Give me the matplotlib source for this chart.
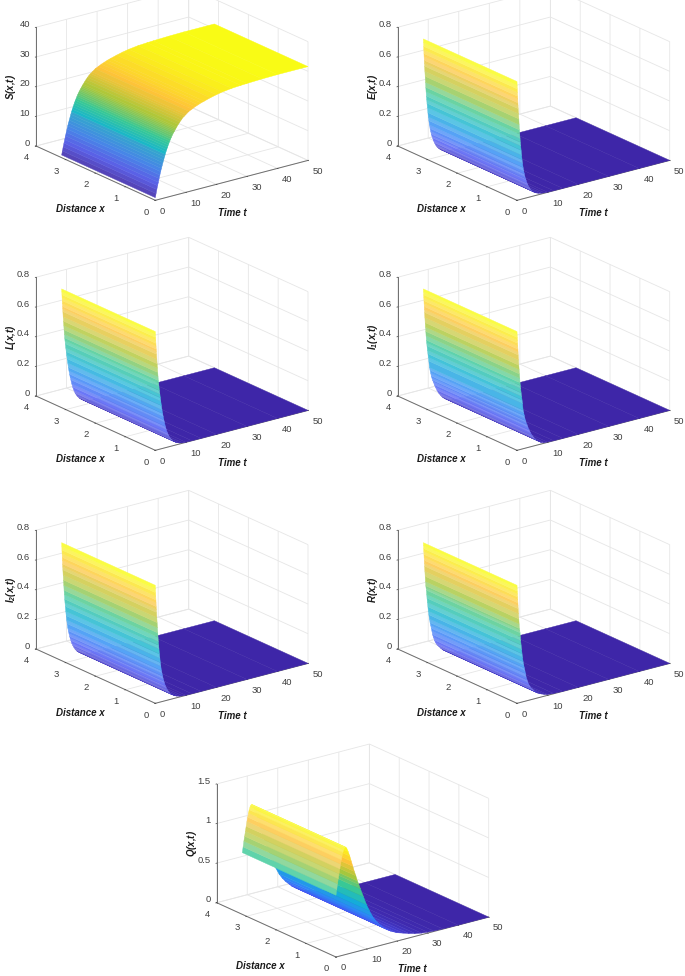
import numpy as np
import matplotlib
matplotlib.use('Agg')
import matplotlib.pyplot as plt
from matplotlib.colors import LinearSegmentedColormap
from mpl_toolkits.mplot3d import proj3d

plt.rcParams['font.family'] = ['Liberation Sans', 'DejaVu Sans']
plt.rcParams['mathtext.fontset'] = 'custom'
plt.rcParams['mathtext.bfit'] = 'Liberation Sans:italic:bold'
plt.rcParams['mathtext.rm'] = 'Liberation Sans:italic:bold'

W, H = 685, 976

# distance is constant across each surface, only the two ends are needed
x_values = [0, 3.14]

t_fast = [0, .05, .1, .15, .2, .25, .3, .35, .4, .5, .6, .7, .8, .9, 1, 1.1, 1.2, 1.35, 1.5, 1.65, 1.8, 2,
          2.2, 2.4, 2.6, 2.8, 3, 3.3, 3.6, 4, 4.4, 5, 5.6, 6.3, 7, 8, 9, 10, 12, 15, 20, 30, 40, 50]
E_values = [.80, .775, .75, .725, .70, .68, .655, .635, .615, .58, .545, .505, .47, .44, .41, .385, .36, .33, .295, .265, .24, .21,
            .185, .165, .145, .13, .118, .098, .082, .065, .05, .036, .025, .016, .01, .005, .002, .001, 0, 0, 0, 0, 0, 0]
L_values = [.80, .78, .76, .74, .72, .70, .68, .665, .645, .61, .58, .55, .52, .49, .465, .445, .425, .395, .37, .345, .32, .29,
            .26, .235, .212, .19, .172, .143, .12, .095, .075, .053, .037, .024, .014, .006, .002, .001, 0, 0, 0, 0, 0, 0]
I1_values = [.80, .78, .76, .74, .72, .70, .68, .66, .64, .605, .57, .54, .51, .48, .45, .43, .41, .38, .355, .33, .305, .26,
             .24, .22, .20, .185, .17, .155, .135, .115, .095, .072, .053, .036, .024, .01, .004, .002, 0, 0, 0, 0, 0, 0]
I2_values = [.795, .77, .745, .72, .695, .675, .65, .63, .61, .575, .54, .505, .47, .44, .41, .385, .36, .325, .295, .265, .24, .21,
             .19, .17, .15, .135, .12, .10, .085, .068, .053, .038, .027, .018, .011, .005, .002, .001, 0, 0, 0, 0, 0, 0]
R_values = [.795, .775, .755, .735, .715, .695, .675, .655, .635, .60, .565, .53, .50, .485, .47, .44, .415, .385, .355, .325, .30, .27,
            .245, .225, .205, .185, .16, .14, .12, .10, .085, .07, .055, .04, .03, .02, .012, .006, .002, 0, 0, 0, 0, 0]

t_slow = [0, .25, .5, .75, 1, 1.25, 1.5, 1.75, 2, 2.25, 2.5, 2.75, 3, 3.25, 3.5, 3.75, 4, 4.25, 4.5, 4.75, 5, 5.25, 5.5, 5.75,
          6, 6.25, 6.5, 6.75, 7, 7.5, 8, 8.5, 9, 9.5, 10, 11, 12, 13, 14, 15, 16, 18, 20, 22, 25, 28, 30, 35, 40, 50]
S_values = [.9, 2.2, 3.5, 4.7, 5.8, 7, 8.1, 9.2, 10.2, 11.1, 12, 12.9, 13.8, 14.6, 15.4, 16.1, 16.8, 17.5, 18.1, 18.7, 19.3, 19.8, 20.3, 20.8,
            21.2, 21.6, 22, 22.4, 22.8, 23.5, 24.2, 24.8, 25.4, 25.8, 26.2, 27, 27.5, 28, 28.4, 28.8, 29.1, 29.7, 30.2, 30.6, 31, 31.2, 31.3, 31.5, 31.6, 31.6]

t_hump = [0, .25, .5, .75, 1, 1.25, 1.5, 1.75, 2, 2.25, 2.5, 2.75, 3, 3.5, 4, 4.5, 5, 5.5, 6, 6.5, 7, 7.5, 8,
          9, 10, 11, 12, 13, 14, 15, 16, 17, 18, 19, 20, 22, 24, 26, 28, 30, 32, 35, 40, 50]
Q_values = [.78, .85, .92, .98, 1.04, 1.10, 1.16, 1.21, 1.26, 1.30, 1.33, 1.35, 1.36, 1.34, 1.29, 1.23, 1.16, 1.09, 1.02, .96, .89, .84, .78,
            .67, .56, .47, .39, .33, .28, .24, .20, .17, .145, .125, .105, .08, .055, .035, .02, .012, .006, .002, 0, 0]

x_ticks = [0, 1, 2, 3, 4]
t_ticks = [0, 10, 20, 30, 40, 50]
z_ticks_S = [0, 10, 20, 30, 40]
z_ticks_small = [0, .2, .4, .6, .8]
z_ticks_Q = [0, .5, 1, 1.5]

# parula
parula = LinearSegmentedColormap.from_list('parula', [
    (.2422, .1504, .6603), (.2810, .3228, .9579), (.1786, .5289, .9682), (.0689, .6948, .8394),
    (.2161, .7843, .5923), (.6720, .7793, .2227), (.9970, .7659, .2199), (.9769, .9839, .0805)])

panels = [
    (t_slow, S_values, z_ticks_S, ['0', '10', '20', '30', '40'], r'$\mathbfit{S(x{,}t)}$', 36, 146),
    (t_fast, E_values, z_ticks_small, ['0', '0.2', '0.4', '0.6', '0.8'], r'$\mathbfit{E(x{,}t)}$', 397.7, 146),
    (t_fast, L_values, z_ticks_small, ['0', '0.2', '0.4', '0.6', '0.8'], r'$\mathbfit{L(x{,}t)}$', 36, 396),
    (t_fast, I1_values, z_ticks_small, ['0', '0.2', '0.4', '0.6', '0.8'], r'$\mathbfit{I_1(x{,}t)}$', 397.7, 396),
    (t_fast, I2_values, z_ticks_small, ['0', '0.2', '0.4', '0.6', '0.8'], r'$\mathbfit{I_2(x{,}t)}$', 36, 649),
    (t_fast, R_values, z_ticks_small, ['0', '0.2', '0.4', '0.6', '0.8'], r'$\mathbfit{R(x{,}t)}$', 397.7, 649),
    (t_hump, Q_values, z_ticks_Q, ['0', '0.5', '1', '1.5'], r'$\mathbfit{Q(x{,}t)}$', 216.7, 902.7),
]


def to_pixels(ax, t, x, z):
    ax.apply_aspect()
    px, py, _ = proj3d.proj_transform(t, x, z, ax.get_proj())
    return ax.transData.transform((px, py))


def place(ax, left_x, left_y, t_max):
    # scale and move the axes so the floor's left corner lands on the wanted pixel
    a = to_pixels(ax, 0, 4, 0)
    b = to_pixels(ax, t_max, 0, 0)
    pos = ax.get_position(original=True)
    side = pos.width * W * 272 / (b[0] - a[0])
    ax.set_position([pos.x0, pos.y0, side / W, side / H])
    a = to_pixels(ax, 0, 4, 0)
    ax.set_position([pos.x0 + (left_x - a[0]) / W, pos.y0 + (H - left_y - a[1]) / H, side / W, side / H])


fig = plt.figure(figsize=(W / 100, H / 100), dpi=100)

for t_vals, z_vals, z_ticks, z_labels, z_title, left_x, left_y in panels:
    ax = fig.add_axes([.1, .1, .4, .4 * W / H], projection='3d', proj_type='ortho')
    ax.set_facecolor('none')
    ax.set_box_aspect((192, 198, 126.8))
    ax.view_init(elev=20.18, azim=-127.15)

    T, X = np.meshgrid(t_vals, x_values)
    Z = np.tile(z_vals, (len(x_values), 1))

    # steep parts of the surface look pale in the original (mesh lines over the colour)
    z_arr = np.array(z_vals)
    colors = parula(z_arr / z_arr.max())
    slope = np.abs(np.gradient(z_arr, t_vals)) / z_arr.max()
    is_S = z_vals is S_values
    is_Q = z_vals is Q_values
    for i in range(len(z_arr)):
        if is_S:
            if z_arr[i] < 14:
                colors[i, :3] = colors[i, :3] * .72 + .28 * np.array([.55, .5, .75])
        elif slope[i] > .03 and (not is_Q or t_vals[i] < 3):
            blend = .3 if i % 2 else .2
            colors[i, :3] = colors[i, :3] * (1 - blend) + blend
    facecolors = np.tile(colors[None, :, :], (len(x_values), 1, 1))
    surf = ax.plot_surface(T, X, Z, facecolors=facecolors, rstride=1, cstride=1, shade=False,
                           linewidth=.3, antialiased=True)
    surf.set_edgecolor(colors[:-1])

    ax.set_xlim(0, 50, view_margin=0)
    ax.set_ylim(0, 4, view_margin=0)
    ax.set_zlim(0, z_ticks[-1], view_margin=0)
    ax.set_xticks(t_ticks)
    ax.set_yticks(x_ticks)
    ax.set_zticks(z_ticks)
    ax.set_xticklabels([str(v) for v in t_ticks], ha='left')
    ax.set_yticklabels([str(v) for v in x_ticks], ha='right')
    ax.set_zticklabels(z_labels, ha='right', va='baseline')

    for axis in (ax.xaxis, ax.yaxis, ax.zaxis):
        axis.set_pane_color((1, 1, 1, 0))
        axis.pane.set_edgecolor((1, 1, 1, 0))
        axis.line.set_color('#6e6e6e')
        axis.line.set_linewidth(.7)
        axis._axinfo['grid']['color'] = '#e6e6e6'
        axis._axinfo['grid']['linewidth'] = .6
        axis._axinfo['tick']['inward_factor'] = .06
        axis._axinfo['tick']['outward_factor'] = 0
        axis._axinfo['tick']['linewidth'] = {True: .5, False: .5}
    ax.zaxis.set_ticks_position('upper')
    ax.tick_params(axis='y', colors='#404040', labelsize=6.8, pad=-3)
    ax.tick_params(axis='x', colors='#404040', labelsize=6.8, pad=-4)
    ax.tick_params(axis='z', colors='#404040', labelsize=6.8, pad=-5.5)

    place(ax, left_x, left_y, t_ticks[-1])

    fig.text((left_x + 44) / W, 1 - (left_y + 63.5) / H, 'Distance x', fontsize=7, style='italic', weight='bold',
             ha='center', va='center', color='#1a1a1a')
    fig.text((left_x + 196) / W, 1 - (left_y + 66.7) / H, 'Time t', fontsize=7, style='italic', weight='bold',
             ha='center', va='center', color='#1a1a1a')
    fig.text((left_x - 24.5) / W, 1 - (left_y - 59) / H, z_title, fontsize=7, rotation=90,
             ha='center', va='center', color='#1a1a1a')

fig.savefig('out.png', dpi=100)
